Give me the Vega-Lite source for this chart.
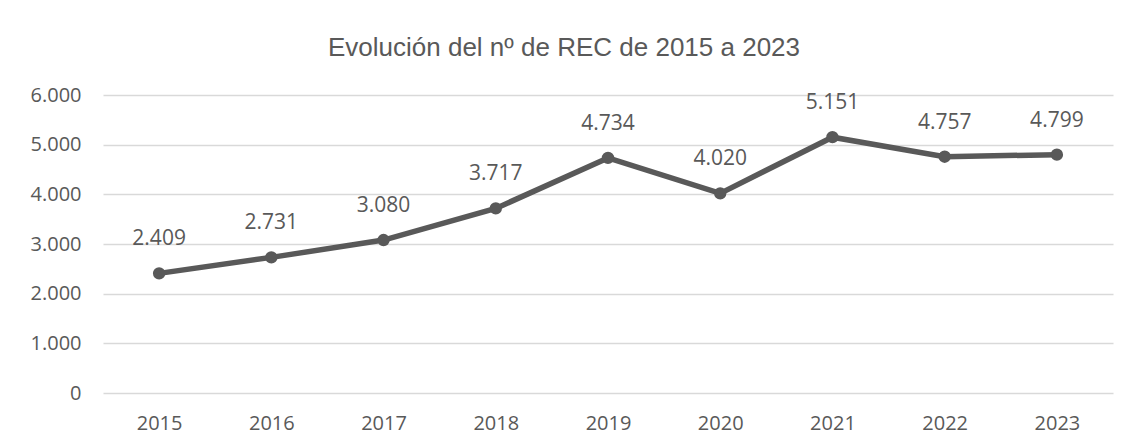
{
  "$schema": "https://vega.github.io/schema/vega-lite/v6.json",
  "width": 1010,
  "height": 298,
  "autosize": {"type": "none"},
  "padding": {"left": 103, "top": 95, "right": 20, "bottom": 54},
  "background": "white",
  "title": {
    "text": "Evolución del nº de REC de 2015 a 2023",
    "font": "Liberation Sans",
    "fontSize": 26,
    "fontWeight": "normal",
    "color": "#595959",
    "anchor": "middle",
    "dx": -44,
    "offset": 24
  },
  "config": {
    "view": {"stroke": null},
    "locale": {"number": {"decimal": ",", "thousands": ".", "grouping": [3], "currency": ["", " €"]}}
  },
  "data": {
    "values": [
      {"year": "2015", "rec": 2409},
      {"year": "2016", "rec": 2731},
      {"year": "2017", "rec": 3080},
      {"year": "2018", "rec": 3717},
      {"year": "2019", "rec": 4734},
      {"year": "2020", "rec": 4020},
      {"year": "2021", "rec": 5151},
      {"year": "2022", "rec": 4757},
      {"year": "2023", "rec": 4799}
    ]
  },
  "encoding": {
    "x": {
      "field": "year",
      "type": "ordinal",
      "scale": {"type": "point", "padding": 0.5},
      "axis": {
        "title": null,
        "labelAngle": 0,
        "domain": false,
        "ticks": false,
        "grid": false,
        "labelFont": "Open Sans",
        "labelFontSize": 20,
        "labelColor": "#595959",
        "labelPadding": 20
      }
    },
    "y": {
      "field": "rec",
      "type": "quantitative",
      "scale": {"domain": [0, 6000]},
      "axis": {
        "title": null,
        "values": [0, 1000, 2000, 3000, 4000, 5000, 6000],
        "format": ",d",
        "domain": false,
        "ticks": false,
        "grid": true,
        "gridColor": "#d9d9d9",
        "gridWidth": 1.5,
        "labelFont": "Open Sans",
        "labelFontSize": 20,
        "labelColor": "#595959",
        "labelPadding": 22
      }
    }
  },
  "layer": [
    {"mark": {"type": "line", "color": "#595959", "strokeWidth": 5.5}},
    {"mark": {"type": "point", "shape": "circle", "filled": true, "opacity": 1, "color": "#595959", "size": 154}},
    {
      "mark": {"type": "text", "dy": -34, "font": "Open Sans", "fontSize": 21, "color": "#595959"},
      "encoding": {"text": {"field": "rec", "type": "quantitative", "format": ",d"}}
    }
  ]
}
